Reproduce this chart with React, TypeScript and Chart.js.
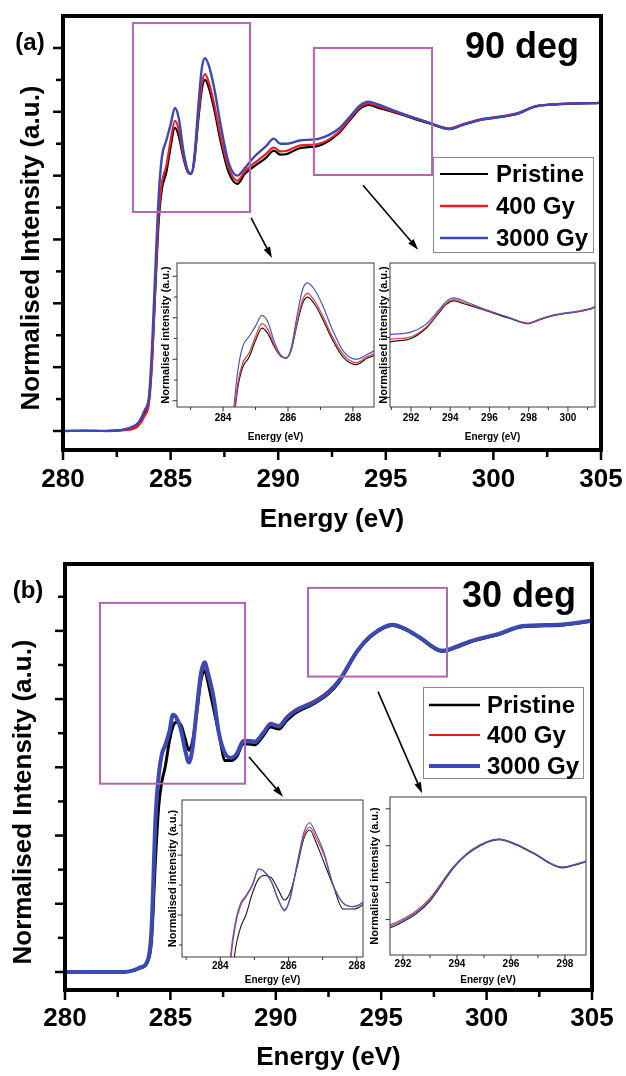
import React, { useEffect, useRef } from 'react';
import { Chart, registerables } from 'chart.js';

Chart.register(...registerables);

const FF = '"Liberation Sans", Arial, Helvetica, sans-serif';
const fnt = (size: number, weight = 'bold') => `${weight} ${size}px ${FF}`;

// ---------- series ----------
const seriesNames = ['Pristine', '400 Gy', '3000 Gy'];
const seriesColors = ['#000000', '#ec1c24', '#3b49b6'];
const insetColors = ['#1a1a1a', '#e8383c', '#4656c4'];

// Panel (a): 90 deg
const energyA = [280, 281, 282, 282.6, 283.1, 283.5, 283.8, 284.0, 284.15, 284.3, 284.45, 284.6, 284.8, 285.0, 285.2, 285.38, 285.58, 285.78, 285.95, 286.1, 286.28, 286.45, 286.6, 286.8, 287.05, 287.35, 287.7, 288.1, 288.45, 288.9, 289.4, 289.8, 290.1, 290.4, 291.0, 291.9, 292.8, 293.4, 293.8, 294.2, 294.6, 295.6, 297.0, 297.95, 298.6, 299.35, 300.7, 301.2, 301.9, 303.0, 305.0];
const pristineA = [0, 0, 0, 0.01, 0.03, 0.1, 0.28, 0.5, 1.2, 2.3, 3.3, 3.8, 4.05, 4.45, 4.75, 4.62, 4.3, 4.07, 4.03, 4.22, 4.85, 5.35, 5.5, 5.35, 5.0, 4.5, 4.05, 3.87, 4.03, 4.15, 4.27, 4.39, 4.33, 4.34, 4.43, 4.47, 4.66, 4.9, 5.05, 5.11, 5.07, 4.97, 4.82, 4.73, 4.8, 4.87, 4.94, 4.98, 5.08, 5.12, 5.14];
const gy400A = [0, 0, 0, 0.01, 0.02, 0.08, 0.24, 0.45, 1.15, 2.35, 3.4, 3.9, 4.15, 4.55, 4.86, 4.72, 4.34, 4.08, 4.03, 4.24, 4.9, 5.43, 5.59, 5.43, 5.08, 4.57, 4.12, 3.92, 4.07, 4.2, 4.33, 4.44, 4.38, 4.39, 4.47, 4.5, 4.68, 4.92, 5.07, 5.13, 5.09, 4.98, 4.83, 4.74, 4.81, 4.88, 4.95, 4.99, 5.08, 5.12, 5.14];
const gy3000A = [0, 0.01, 0, 0.01, 0.05, 0.13, 0.33, 0.55, 1.4, 2.6, 3.7, 4.3, 4.55, 4.8, 5.06, 4.9, 4.42, 4.1, 4.03, 4.28, 5.05, 5.68, 5.84, 5.7, 5.33, 4.75, 4.2, 4.0, 4.12, 4.3, 4.45, 4.58, 4.5, 4.5, 4.55, 4.58, 4.73, 4.95, 5.1, 5.16, 5.12, 4.99, 4.83, 4.73, 4.8, 4.87, 4.94, 4.98, 5.08, 5.12, 5.14];

// Panel (b): 30 deg
const energyB = [280, 281, 282, 282.8, 283.2, 283.6, 283.9, 284.1, 284.3, 284.45, 284.6, 284.75, 284.95, 285.12, 285.28, 285.5, 285.7, 285.88, 286.05, 286.25, 286.45, 286.62, 286.8, 287.05, 287.3, 287.6, 287.9, 288.15, 288.45, 288.75, 289.0, 289.4, 289.75, 290.15, 290.5, 290.9, 291.85, 292.5, 293.0, 293.9, 294.6, 295.55, 296.2, 296.8, 297.9, 298.5, 299.25, 300.6, 301.7, 303.4, 305];
const pristineB = [0, 0, 0, 0, 0.02, 0.06, 0.14, 0.45, 1.7, 2.45, 2.8, 3.0, 3.38, 3.6, 3.66, 3.62, 3.42, 3.25, 3.38, 3.8, 4.28, 4.42, 4.22, 3.86, 3.5, 3.1, 3.1, 3.16, 3.34, 3.34, 3.33, 3.46, 3.59, 3.56, 3.68, 3.79, 3.94, 4.08, 4.25, 4.71, 4.94, 5.08, 5.01, 4.9, 4.7, 4.75, 4.84, 4.95, 5.06, 5.08, 5.14];
const gy400B = [0, 0, 0, 0, 0.02, 0.07, 0.15, 0.55, 2.2, 2.85, 3.16, 3.3, 3.5, 3.76, 3.73, 3.56, 3.26, 3.09, 3.3, 3.84, 4.32, 4.47, 4.3, 3.98, 3.52, 3.2, 3.14, 3.2, 3.4, 3.4, 3.39, 3.52, 3.65, 3.62, 3.74, 3.84, 3.98, 4.12, 4.29, 4.73, 4.96, 5.09, 5.02, 4.91, 4.71, 4.76, 4.85, 4.96, 5.07, 5.09, 5.15];
const gy3000B = [0, 0, 0, 0, 0.02, 0.07, 0.15, 0.6, 2.3, 2.9, 3.2, 3.32, 3.52, 3.77, 3.73, 3.55, 3.25, 3.07, 3.28, 3.85, 4.38, 4.54, 4.36, 4.02, 3.5, 3.2, 3.14, 3.2, 3.38, 3.38, 3.37, 3.5, 3.63, 3.6, 3.72, 3.82, 3.96, 4.1, 4.27, 4.72, 4.95, 5.09, 5.02, 4.91, 4.71, 4.76, 4.85, 4.96, 5.07, 5.09, 5.15];

// ---------- ticks ----------
const mainXTicks = [280, 285, 290, 295, 300, 305];
const mainXMinor = [282.5, 287.5, 292.5, 297.5, 302.5];
const mainYMajorA = [0, 1, 2, 3, 4, 5, 6];
const mainYMinorA = [0.5, 1.5, 2.5, 3.5, 4.5, 5.5];
const mainYMajorB = [0, 1, 2, 3, 4, 5];
const mainYMinorB = [0.5, 1.5, 2.5, 3.5, 4.5, 5.5];

const insetLeftXTicks = [283, 284, 285, 286, 287, 288];
const insetLeftXLabels = [284, 286, 288];
const insetA2XTicks = [291, 292, 293, 294, 295, 296, 297, 298, 299, 300, 301];
const insetA2XLabels = [292, 294, 296, 298, 300];
const insetB2XTicks = [292, 293, 294, 295, 296, 297, 298];
const insetB2XLabels = [292, 294, 296, 298];

// zoom boxes [xFrom, xTo, yFrom, yTo] and arrows [x0, y0, x1, y1] in data units
const zoomBoxesA = [[283.25, 288.69, 3.43, 6.39], [291.66, 297.15, 4.01, 6.0]];
const arrowsA = [[288.74, 3.34, 289.71, 2.71], [293.94, 3.85, 296.5, 2.84]];
const zoomBoxesB = [[281.66, 288.54, 2.76, 5.41], [291.53, 298.12, 4.33, 5.63]];
const arrowsB = [[288.73, 3.15, 290.34, 2.57], [294.85, 4.11, 296.94, 2.62]];

// ---------- helpers ----------
const toPts = (xs: number[], ys: number[]) => xs.map((x, i) => ({ x, y: ys[i] }));

function makeDatasets(xs: number[], ys: number[][], widths: number[], colors: string[]) {
  return ys.map((v, i) => ({
    label: seriesNames[i],
    data: toPts(xs, v),
    borderColor: colors[i],
    backgroundColor: colors[i],
    borderWidth: widths[i],
    pointRadius: 0,
    pointHoverRadius: 0,
    fill: false,
    cubicInterpolationMode: 'monotone' as const,
    order: 2 - i,
  }));
}

type Decor = {
  fillArea?: boolean;
  frame: { lw: number; color: string };
  tick: { major: number; minor: number; lw: number; color: string };
  xMajor: number[];
  xMinor: number[];
  yMajor: number[];
  yMinor: number[];
  yTitle: { text: string; x: number; y?: number; font: string };
  xTitle: { text: string; y: number; font: string };
  texts?: { text: string; x: number; y: number; font: string; align: CanvasTextAlign; baseline: CanvasTextBaseline }[];
  rects?: { list: number[][]; color: string; lw: number };
  arrows?: { list: number[][]; lw: number; head: number; width: number };
  legend?: { box: number[]; rows: number[]; lx0: number; lx1: number; tx: number; font: string; lws: number[] };
};

function decorPlugin(spec: Decor) {
  return {
    id: 'decor',
    beforeDatasetsDraw(chart: any) {
      if (!spec.fillArea) return;
      const { ctx, chartArea: a } = chart;
      ctx.save();
      ctx.fillStyle = '#ffffff';
      ctx.fillRect(a.left, a.top, a.right - a.left, a.bottom - a.top);
      ctx.restore();
    },
    afterDatasetsDraw(chart: any) {
      const { ctx } = chart;
      const xs = chart.scales.x;
      const ys = chart.scales.y;
      ctx.save();
      if (spec.rects) {
        ctx.strokeStyle = spec.rects.color;
        ctx.lineWidth = spec.rects.lw;
        for (const [x0, x1, y0, y1] of spec.rects.list) {
          const px0 = xs.getPixelForValue(x0);
          const px1 = xs.getPixelForValue(x1);
          const py0 = ys.getPixelForValue(y0);
          const py1 = ys.getPixelForValue(y1);
          ctx.strokeRect(px0, py1, px1 - px0, py0 - py1);
        }
      }
      if (spec.arrows) {
        const { lw, head, width } = spec.arrows;
        ctx.strokeStyle = '#000';
        ctx.fillStyle = '#000';
        ctx.lineWidth = lw;
        for (const [x0, y0, x1, y1] of spec.arrows.list) {
          const ax = xs.getPixelForValue(x0);
          const ay = ys.getPixelForValue(y0);
          const bx = xs.getPixelForValue(x1);
          const by = ys.getPixelForValue(y1);
          const ang = Math.atan2(by - ay, bx - ax);
          const cx = bx - head * Math.cos(ang);
          const cy = by - head * Math.sin(ang);
          ctx.beginPath();
          ctx.moveTo(ax, ay);
          ctx.lineTo(cx, cy);
          ctx.stroke();
          ctx.beginPath();
          ctx.moveTo(bx, by);
          ctx.lineTo(cx + (width / 2) * Math.sin(ang), cy - (width / 2) * Math.cos(ang));
          ctx.lineTo(cx - (width / 2) * Math.sin(ang), cy + (width / 2) * Math.cos(ang));
          ctx.closePath();
          ctx.fill();
        }
      }
      ctx.restore();
    },
    afterDraw(chart: any) {
      const { ctx, chartArea: a } = chart;
      const xs = chart.scales.x;
      const ys = chart.scales.y;
      ctx.save();
      // legend
      if (spec.legend) {
        const L = spec.legend;
        ctx.fillStyle = '#ffffff';
        ctx.fillRect(L.box[0], L.box[1], L.box[2], L.box[3]);
        ctx.strokeStyle = '#8a8a8a';
        ctx.lineWidth = 1;
        ctx.strokeRect(L.box[0] + 0.5, L.box[1] + 0.5, L.box[2], L.box[3]);
        chart.data.datasets.forEach((ds: any, i: number) => {
          ctx.strokeStyle = ds.borderColor;
          ctx.lineWidth = L.lws[i];
          ctx.beginPath();
          ctx.moveTo(L.lx0, L.rows[i]);
          ctx.lineTo(L.lx1, L.rows[i]);
          ctx.stroke();
          ctx.fillStyle = '#000';
          ctx.font = L.font;
          ctx.textAlign = 'left';
          ctx.textBaseline = 'middle';
          ctx.fillText(ds.label, L.tx, L.rows[i] + 1);
        });
      }
      // frame
      ctx.strokeStyle = spec.frame.color;
      ctx.lineWidth = spec.frame.lw;
      ctx.lineJoin = 'miter';
      ctx.strokeRect(a.left, a.top, a.right - a.left, a.bottom - a.top);
      // ticks
      const t = spec.tick;
      const off = spec.frame.lw / 2;
      ctx.strokeStyle = t.color;
      ctx.lineWidth = t.lw;
      const eps = 1e-6;
      const drawX = (vals: number[], len: number) => {
        for (const v of vals) {
          if (v < xs.min - eps || v > xs.max + eps) continue;
          const px = xs.getPixelForValue(v);
          ctx.beginPath();
          ctx.moveTo(px, a.bottom);
          ctx.lineTo(px, a.bottom + off + len);
          ctx.stroke();
        }
      };
      const drawY = (vals: number[], len: number) => {
        for (const v of vals) {
          if (v < ys.min - eps || v > ys.max + eps) continue;
          const py = ys.getPixelForValue(v);
          ctx.beginPath();
          ctx.moveTo(a.left, py);
          ctx.lineTo(a.left - off - len, py);
          ctx.stroke();
        }
      };
      drawX(spec.xMajor, t.major);
      drawX(spec.xMinor, t.minor);
      drawY(spec.yMajor, t.major);
      drawY(spec.yMinor, t.minor);
      // titles
      ctx.fillStyle = '#000';
      ctx.textAlign = 'center';
      ctx.textBaseline = 'middle';
      ctx.font = spec.xTitle.font;
      ctx.fillText(spec.xTitle.text, (a.left + a.right) / 2, spec.xTitle.y);
      ctx.save();
      ctx.translate(spec.yTitle.x, spec.yTitle.y ?? (a.top + a.bottom) / 2);
      ctx.rotate(-Math.PI / 2);
      ctx.font = spec.yTitle.font;
      ctx.fillText(spec.yTitle.text, 0, 0);
      ctx.restore();
      if (spec.texts) {
        for (const tx of spec.texts) {
          ctx.font = tx.font;
          ctx.textAlign = tx.align;
          ctx.textBaseline = tx.baseline;
          ctx.fillText(tx.text, tx.x, tx.y);
        }
      }
      ctx.restore();
    },
  };
}

type Frame = {
  xMin: number; xMax: number; yMin: number; yMax: number;
  padTop: number; padRight: number; yWidth: number; xHeight: number;
  xTicks: number[]; xLabels: number[]; labelSize: number; labelPad: number;
};

function buildConfig(f: Frame, datasets: any[], spec: Decor): any {
  return {
    type: 'line',
    data: { datasets },
    options: {
      responsive: false,
      animation: false,
      events: [],
      layout: { padding: { top: f.padTop, right: f.padRight, left: 0, bottom: 0 } },
      plugins: { legend: { display: false }, tooltip: { enabled: false } },
      scales: {
        x: {
          type: 'linear',
          min: f.xMin,
          max: f.xMax,
          grid: { display: false, drawTicks: false, tickLength: 0 },
          border: { display: false },
          afterBuildTicks: (s: any) => {
            s.ticks = f.xTicks.map((v) => ({ value: v }));
          },
          afterFit: (s: any) => {
            s.height = f.xHeight;
            s.paddingLeft = 0;
            s.paddingRight = 0;
          },
          ticks: {
            autoSkip: false,
            maxRotation: 0,
            minRotation: 0,
            padding: f.labelPad,
            color: '#000',
            font: { family: FF, size: f.labelSize, weight: 'bold' },
            callback: (v: number) => (f.xLabels.includes(v) ? String(v) : ''),
          },
        },
        y: {
          type: 'linear',
          min: f.yMin,
          max: f.yMax,
          grid: { display: false, drawTicks: false, tickLength: 0 },
          border: { display: false },
          ticks: { display: false },
          afterFit: (s: any) => {
            s.width = f.yWidth;
            s.paddingTop = 0;
            s.paddingBottom = 0;
          },
        },
      },
    },
    plugins: [decorPlugin(spec)],
  };
}

// ---------- chart configs ----------
const mainTick = { major: 8, minor: 5, lw: 2.5, color: '#000' };
const insetTick = { major: 4, minor: 2.5, lw: 1, color: '#333' };
const insetFrame = { lw: 1, color: '#3a3a3a' };
const Y_TITLE = 'Normalised Intensity (a.u.)';
const Y_TITLE_INSET = 'Normalised intensity (a.u.)';
const X_TITLE = 'Energy (eV)';

const mainAConfig = () =>
  buildConfig(
    { xMin: 280, xMax: 305, yMin: -0.298, yMax: 6.501, padTop: 16, padRight: 25, yWidth: 63, xHeight: 90, xTicks: mainXTicks, xLabels: mainXTicks, labelSize: 26, labelPad: 14 },
    makeDatasets(energyA, [pristineA, gy400A, gy3000A], [2.2, 2.2, 2.4], seriesColors),
    {
      frame: { lw: 4, color: '#000' },
      tick: mainTick,
      xMajor: mainXTicks, xMinor: mainXMinor, yMajor: mainYMajorA, yMinor: mainYMinorA,
      yTitle: { text: Y_TITLE, x: 32, y: 248, font: fnt(26) },
      xTitle: { text: X_TITLE, y: 520, font: fnt(26) },
      texts: [
        { text: '(a)', x: 30, y: 43, font: fnt(24), align: 'center', baseline: 'middle' },
        { text: '90 deg', x: 465, y: 58, font: fnt(36), align: 'left', baseline: 'alphabetic' },
      ],
      rects: { list: zoomBoxesA, color: '#b464b4', lw: 2 },
      arrows: { list: arrowsA, lw: 1.6, head: 11, width: 7 },
      legend: { box: [433, 157, 160, 95], rows: [174, 206, 238], lx0: 440, lx1: 488, tx: 496, font: fnt(24), lws: [2.2, 2.4, 2.6] },
    }
  );

const mainBConfig = () =>
  buildConfig(
    { xMin: 280, xMax: 305, yMin: -0.264, yMax: 5.98, padTop: 24, padRight: 34, yWidth: 65, xHeight: 86, xTicks: mainXTicks, xLabels: mainXTicks, labelSize: 26, labelPad: 13 },
    makeDatasets(energyB, [pristineB, gy400B, gy3000B], [3, 2.2, 4], seriesColors),
    {
      frame: { lw: 4, color: '#000' },
      tick: mainTick,
      xMajor: mainXTicks, xMinor: mainXMinor, yMajor: mainYMajorB, yMinor: mainYMinorB,
      yTitle: { text: Y_TITLE, x: 24, y: 262, font: fnt(26) },
      xTitle: { text: X_TITLE, y: 518, font: fnt(26) },
      texts: [
        { text: '(b)', x: 28, y: 51, font: fnt(24), align: 'center', baseline: 'middle' },
        { text: '30 deg', x: 462, y: 67, font: fnt(36), align: 'left', baseline: 'alphabetic' },
      ],
      rects: { list: zoomBoxesB, color: '#b464b4', lw: 2 },
      arrows: { list: arrowsB, lw: 1.6, head: 11, width: 7 },
      legend: { box: [423, 147, 160, 91], rows: [165, 195, 226], lx0: 429, lx1: 480, tx: 487, font: fnt(24), lws: [2.6, 2.2, 4] },
    }
  );

const insetA1Config = () =>
  buildConfig(
    { xMin: 282.58, xMax: 288.65, yMin: 2.85, yMax: 6.32, padTop: 8, padRight: 6, yWidth: 37, xHeight: 48, xTicks: insetLeftXTicks, xLabels: insetLeftXLabels, labelSize: 10, labelPad: 5 },
    makeDatasets(energyA, [pristineA, gy400A, gy3000A], [1.2, 1.2, 1.2], insetColors),
    {
      fillArea: true,
      frame: insetFrame,
      tick: insetTick,
      xMajor: insetLeftXLabels, xMinor: [283, 285, 287], yMajor: [3, 4, 5, 6], yMinor: [3.5, 4.5, 5.5],
      yTitle: { text: Y_TITLE_INSET, x: 26, font: fnt(11) },
      xTitle: { text: X_TITLE, y: 182, font: fnt(10) },
    }
  );

const insetA2Config = () =>
  buildConfig(
    { xMin: 290.93, xMax: 301.38, yMin: 3.34, yMax: 5.74, padTop: 8, padRight: 31, yWidth: 14, xHeight: 48, xTicks: insetA2XTicks, xLabels: insetA2XLabels, labelSize: 10, labelPad: 5 },
    makeDatasets(energyA, [pristineA, gy400A, gy3000A], [1.2, 1.2, 1.2], insetColors),
    {
      fillArea: true,
      frame: insetFrame,
      tick: insetTick,
      xMajor: insetA2XLabels, xMinor: [291, 293, 295, 297, 299, 301], yMajor: [3.5, 4, 4.5, 5, 5.5], yMinor: [],
      yTitle: { text: Y_TITLE_INSET, x: 8, font: fnt(11) },
      xTitle: { text: X_TITLE, y: 182, font: fnt(10) },
    }
  );

const insetB1Config = () =>
  buildConfig(
    { xMin: 282.88, xMax: 288.18, yMin: 2.3, yMax: 4.92, padTop: 8, padRight: 7, yWidth: 32, xHeight: 35, xTicks: insetLeftXTicks, xLabels: insetLeftXLabels, labelSize: 10, labelPad: 3 },
    makeDatasets(energyB, [pristineB, gy400B, gy3000B], [1.1, 1.1, 1.2], insetColors),
    {
      fillArea: true,
      frame: insetFrame,
      tick: insetTick,
      xMajor: insetLeftXLabels, xMinor: [283, 285, 287], yMajor: [3, 4], yMinor: [2.5, 3.5, 4.5],
      yTitle: { text: Y_TITLE_INSET, x: 23, font: fnt(11) },
      xTitle: { text: X_TITLE, y: 188, font: fnt(10) },
    }
  );

const insetB2Config = () =>
  buildConfig(
    { xMin: 291.52, xMax: 298.78, yMin: 3.52, yMax: 5.66, padTop: 8, padRight: 30, yWidth: 24, xHeight: 34, xTicks: insetB2XTicks, xLabels: insetB2XLabels, labelSize: 10, labelPad: 3 },
    makeDatasets(energyB, [pristineB, gy400B, gy3000B], [1.1, 1.1, 1.2], insetColors),
    {
      fillArea: true,
      frame: insetFrame,
      tick: insetTick,
      xMajor: insetB2XLabels, xMinor: [293, 295, 297], yMajor: [4, 4.5, 5, 5.5], yMinor: [],
      yTitle: { text: Y_TITLE_INSET, x: 9, font: fnt(11) },
      xTitle: { text: X_TITLE, y: 191, font: fnt(10) },
    }
  );

function ChartBox(props: { left: number; top: number; width: number; height: number; make: () => any }) {
  const ref = useRef<HTMLCanvasElement>(null);
  useEffect(() => {
    if (!ref.current) return;
    const chart = new Chart(ref.current, props.make());
    return () => chart.destroy();
  }, []);
  return (
    <canvas
      ref={ref}
      width={props.width}
      height={props.height}
      style={{ position: 'absolute', left: props.left, top: props.top, width: props.width, height: props.height }}
    />
  );
}

export default function App() {
  return (
    <div style={{ position: 'absolute', left: 0, top: 0, width: 626, height: 1076, background: '#ffffff', overflow: 'hidden' }}>
      <ChartBox left={0} top={0} width={626} height={540} make={mainAConfig} />
      <ChartBox left={0} top={540} width={626} height={536} make={mainBConfig} />
      <ChartBox left={140} top={255} width={240} height={200} make={insetA1Config} />
      <ChartBox left={376} top={255} width={250} height={200} make={insetA2Config} />
      <ChartBox left={150} top={792} width={220} height={200} make={insetB1Config} />
      <ChartBox left={366} top={789} width={250} height={200} make={insetB2Config} />
    </div>
  );
}
